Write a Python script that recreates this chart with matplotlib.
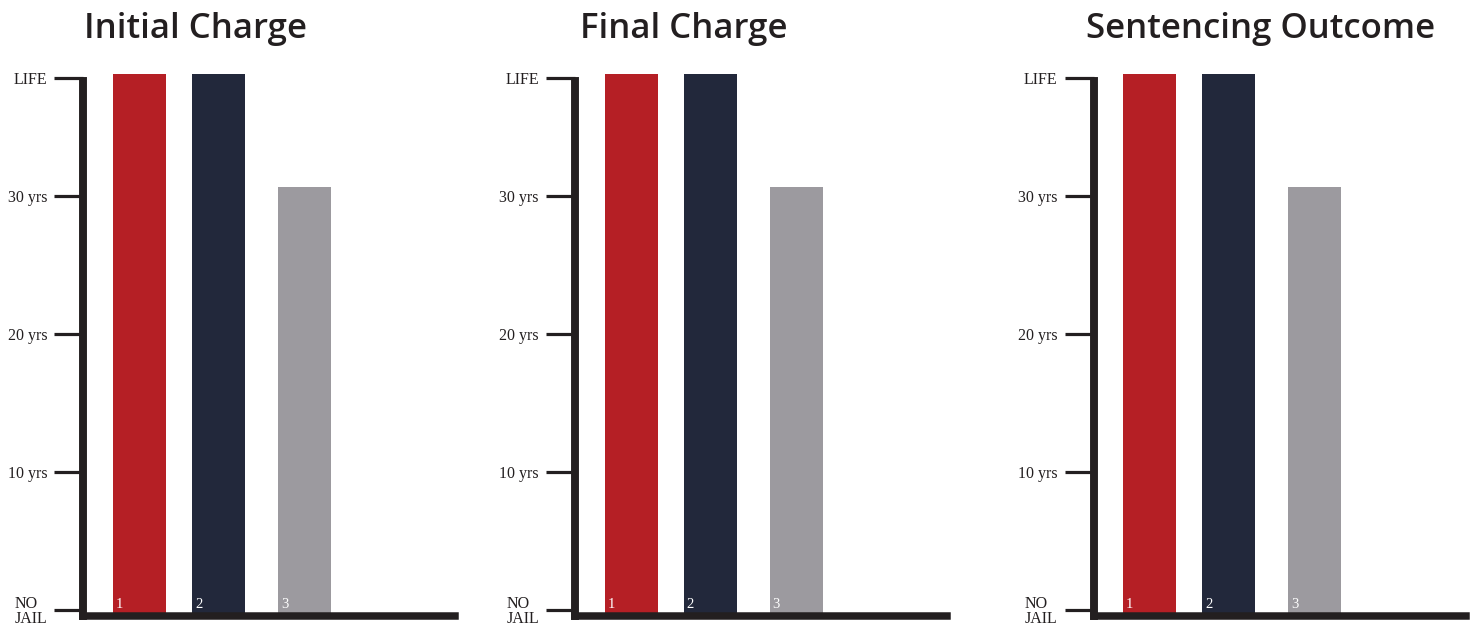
import matplotlib
matplotlib.use("Agg")
from matplotlib import pyplot as plt

# chart values (years; LIFE sits at the top of the scale)
panels = ["Initial Charge", "Final Charge", "Sentencing Outcome"]
bar_labels = ["1", "2", "3"]
LIFE = 38.55
bar_values = [
    [38.85, 38.85, 30.65],
    [38.85, 38.85, 30.65],
    [38.85, 38.85, 30.65],
]
tick_values = [0, 10, 20, 30, LIFE]
tick_labels = ["NO\nJAIL", "10 yrs", "20 yrs", "30 yrs", "LIFE"]
colors = ["#b51f25", "#22283b", "#9c9a9f"]
ink = "#231f20"

# layout (pixels)
W, H = 1474, 628
panel_left = [83.3, 575, 1093.5]
title_x = [195, 684, 1261]
bar_x = [56.2, 135.2, 221.2]
bar_w = 53
ax_w = 376
ax_bottom_px = 615.5
ax_top_px = 60
ymin, ymax = -0.4, 39.86

fig = plt.figure(figsize=(W / 100, H / 100), dpi=100)

for i, name in enumerate(panels):
    ax = fig.add_axes([panel_left[i] / W, (H - ax_bottom_px) / H,
                       ax_w / W, (ax_bottom_px - ax_top_px) / H])
    ax.set_xlim(0, ax_w)
    ax.set_ylim(ymin, ymax)
    vals = bar_values[i]
    ax.bar(bar_x, [v - ymin for v in vals], bottom=ymin, width=bar_w,
           color=colors, zorder=1)
    for x, lab in zip(bar_x, bar_labels):
        ax.text(x - bar_w / 2 + 3, 0.15, lab, color="white", fontsize=10.5,
                family="Liberation Serif", ha="left", va="baseline", zorder=3)

    for s in ["top", "right"]:
        ax.spines[s].set_visible(False)
    ax.spines["left"].set_linewidth(5.7)
    ax.spines["bottom"].set_linewidth(5.4)
    ax.spines["left"].set_color(ink)
    ax.spines["bottom"].set_color(ink)
    ax.spines["left"].set_bounds(ymin, LIFE - 0.2)
    ax.spines["bottom"].set_bounds(0, ax_w - 4)

    ax.set_xticks([])
    ax.set_yticks(tick_values)
    ax.set_yticklabels(tick_labels)
    ax.tick_params(axis="y", length=21, width=2.3, color=ink, pad=5,
                   labelsize=11.5, labelcolor=ink)
    for t in ax.get_yticklabels():
        t.set_family("Liberation Serif")
        t.set_multialignment("left")
        t.set_linespacing(0.95)

    fig.text(title_x[i] / W, 1 - 29 / H, name, ha="center", va="center",
             fontsize=25, family="Open Sans", weight="semibold", color=ink)

fig.savefig("out.png", dpi=100, facecolor="white")
